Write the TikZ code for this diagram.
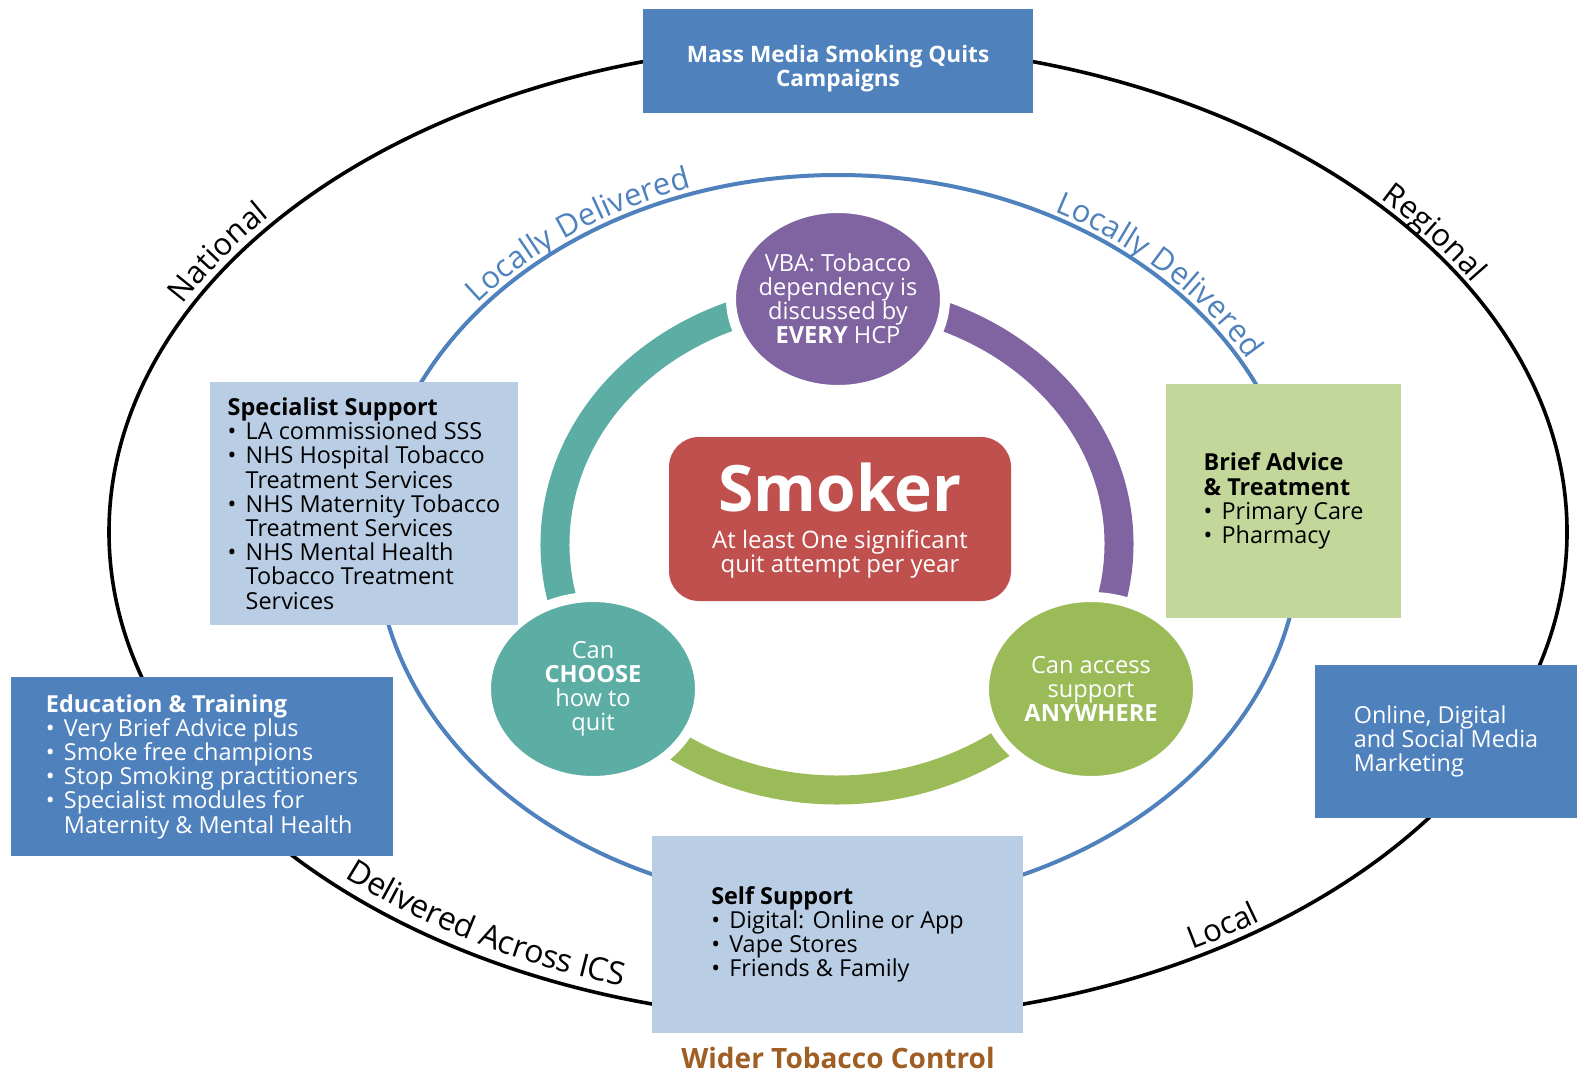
\documentclass[tikz,border=0pt]{standalone}
\usepackage{fontspec}
\setmainfont{Open Sans}
\usetikzlibrary{shapes.geometric,decorations.text}
\definecolor{nhsblue}{RGB}{79,129,189}
\definecolor{paleblue}{RGB}{185,205,229}
\definecolor{palegreen}{RGB}{196,215,155}
\definecolor{vbapurple}{RGB}{128,100,162}
\definecolor{chooseteal}{RGB}{92,174,164}
\definecolor{anygreen}{RGB}{155,187,89}
\definecolor{smokerred}{RGB}{192,80,77}
\definecolor{widerbrown}{RGB}{158,94,36}
\newcommand{\bul}{\makebox[9pt][l]{\textbullet}}
\newcommand{\bulind}{\hspace*{9pt}}

\begin{document}
\begin{tikzpicture}[x=0.5pt,y=-0.5pt,
  boxtext/.style={font=\fontsize{11.7}{12.1}\selectfont,align=left,inner sep=0pt},
  darkbox/.style={rectangle,fill=nhsblue,text=white,boxtext},
  lightbox/.style={rectangle,fill=paleblue,text=black,boxtext},
  greenbox/.style={rectangle,fill=palegreen,text=black,boxtext},
  band/.style={line width=14.5pt},
  bubble/.style={ellipse,draw=white,line width=5pt,inner sep=0pt,minimum width=107pt,minimum height=92pt},
  bubbletext/.style={text=white,align=center,inner sep=0pt,font=\fontsize{11.8}{12}\selectfont},
  curvelabel/.style={decorate,decoration={text along path,text align=center,raise=#1}}]
  \useasboundingbox (0,0) rectangle (1577,1070);
  \coordinate (outerC) at (838,532);
  \coordinate (blueC) at (838,540);
  \coordinate (ring) at (837,544);
  % the two rings
  \draw [line width=1.8pt] (outerC) ellipse [x radius=729,y radius=488];
  \draw [nhsblue,line width=2pt] (blueC) ellipse [x radius=462,y radius=365];
  % words on the rings
  \path [curvelabel=4pt,decoration={text={|\fontsize{15.5}{17}\selectfont|National}}]
    (outerC) ++(192:729 and 488) arc [start angle=192,end angle=232,x radius=729,y radius=488];
  \path [curvelabel=3pt,decoration={text={|\fontsize{15.5}{17}\selectfont|Regional}}]
    (outerC) ++(305:729 and 488) arc [start angle=305,end angle=345,x radius=729,y radius=488];
  \path [curvelabel=4pt,decoration={text={|\fontsize{15.5}{17}\selectfont|Local}}]
    (outerC) ++(70:729 and 488) arc [start angle=70,end angle=44,x radius=729,y radius=488];
  \path [curvelabel=6pt,decoration={text={|\fontsize{16}{18}\selectfont|Delivered Across ICS}}]
    (outerC) ++(142:729 and 488) arc [start angle=142,end angle=100,x radius=729,y radius=488];
  \path [curvelabel=3pt,decoration={text={|\color{nhsblue}\fontsize{15.5}{17}\selectfont|Locally Delivered}}]
    (blueC) ++(210:462 and 365) arc [start angle=210,end angle=260,x radius=462,y radius=365];
  \path [curvelabel=3pt,decoration={text={|\color{nhsblue}\fontsize{15.5}{17}\selectfont|Locally Delivered}}]
    (blueC) ++(290:462 and 365) arc [start angle=290,end angle=340,x radius=462,y radius=365];
  % inner cycle
  \draw [band,chooseteal] (ring) ++(147:282 and 246) arc [start angle=147,end angle=270,x radius=282,y radius=246];
  \draw [band,vbapurple] (ring) ++(270:282 and 246) arc [start angle=270,end angle=393,x radius=282,y radius=246];
  \draw [band,anygreen] (ring) ++(33:282 and 246) arc [start angle=33,end angle=147,x radius=282,y radius=246];
  \node [bubble,fill=vbapurple,minimum height=91pt] (vba) at (838,299) {};
  \node [bubbletext] (vbatext) at (vba) {VBA: Tobacco\\dependency is\\discussed by\\\textbf{EVERY} HCP};
  \node [bubble,fill=chooseteal] (choose) at (593,689) {};
  \node [bubbletext] (choosetext) at (choose) {Can\\\textbf{CHOOSE}\\how to\\quit};
  \node [bubble,fill=anygreen] (anywhere) at (1091,689) {};
  \node [bubbletext] (anywheretext) at (anywhere) {Can access\\support\\\textbf{ANYWHERE}};
  % smoker
  \node [rectangle,rounded corners=15pt,fill=smokerred,minimum width=171pt,minimum height=82pt] (smoker) at (840,519) {};
  \node [anchor=base,text=white,font=\fontsize{32}{36}\selectfont\bfseries] (smokertitle) at (840,511) {Smoker};
  \node [bubbletext,font=\fontsize{12}{12.3}\selectfont] (smokersub) at (840,554) {At least One significant\\quit attempt per year};
  % boxes
  \node [darkbox,minimum width=195pt,minimum height=52pt] (massmedia) at (838,61) {};
  \node [text=white,align=center,inner sep=0pt,font=\fontsize{11.3}{12.1}\selectfont\bfseries] (massmediatext) at (838,69) {Mass Media Smoking Quits\\Campaigns};
  \node [lightbox,minimum width=154pt,minimum height=121.5pt] (specialist) at (364,503.5) {\textbf{Specialist Support}\\\bul LA commissioned SSS\\\bul NHS Hospital Tobacco\\\bulind Treatment Services\\\bul NHS Maternity Tobacco\\\bulind Treatment Services\\\bul NHS Mental Health\\\bulind Tobacco Treatment\\\bulind Services};
  \node [greenbox,minimum width=117.5pt,minimum height=117pt] (brief) at (1283.5,501) {\textbf{Brief Advice}\\\textbf{\& Treatment}\\\bul Primary Care\\\bul Pharmacy};
  \node [darkbox,minimum width=191pt,minimum height=89.5pt] (education) at (202,766.5) {\textbf{Education \& Training}\\\bul Very Brief Advice plus\\\bul Smoke free champions\\\bul Stop Smoking practitioners\\\bul Specialist modules for\\\bulind Maternity \& Mental Health};
  \node [lightbox,minimum width=185.5pt,minimum height=98.5pt] (selfsupport) at (837.5,934.5) {\textbf{Self Support}\\\bul Digital: Online or App\\\bul Vape Stores\\\bul Friends \& Family};
  \node [darkbox,minimum width=131pt,minimum height=76.5pt] (online) at (1446,741.5) {Online, Digital\\and Social Media\\Marketing};
  \node [anchor=base,text=widerbrown,font=\fontsize{14}{16}\selectfont\bfseries] (wider) at (838,1068) {Wider Tobacco Control};
\end{tikzpicture}
\end{document}
